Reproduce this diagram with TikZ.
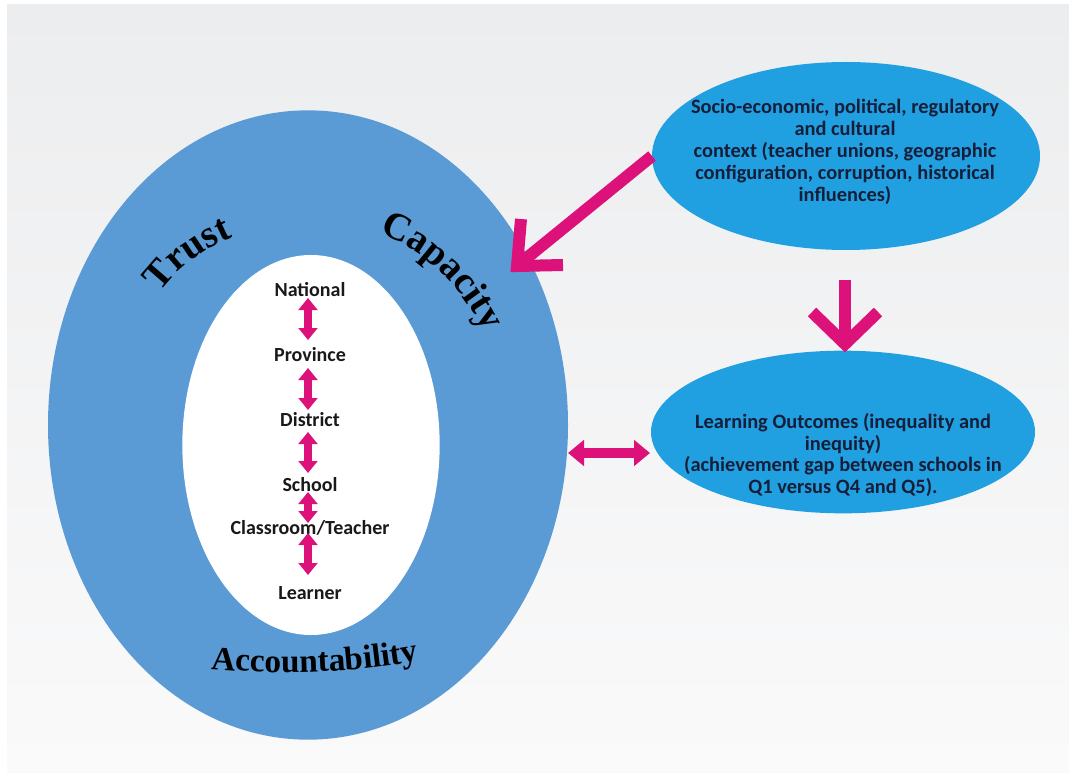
\documentclass[tikz,border=0pt]{standalone}
\usepackage{fontspec}
\usepackage{pdfrender}
\setmainfont{Carlito}
\newfontfamily\wordart{Liberation Serif}
\usetikzlibrary{shapes.geometric,decorations.text,arrows.meta,calc}
\definecolor{ring}{RGB}{91,155,213}
\definecolor{ctxblue}{RGB}{32,160,225}
\definecolor{pinkA}{RGB}{220,18,122}
\definecolor{navy}{RGB}{22,30,58}
\definecolor{bgtop}{RGB}{236,237,238}
\definecolor{bgbot}{RGB}{250,250,251}
\definecolor{silver}{RGB}{170,175,180}
\tikzset{
  blob/.style={ellipse,inner sep=0pt,outer sep=0pt,draw=none},
  ctxtext/.style={align=center,text=navy,font=\fontsize{15.3}{16.4}\selectfont\bfseries},
  level/.style={inner sep=0pt,text=black!90,font=\fontsize{15}{17}\selectfont\bfseries},
  levarrow/.style={draw=pinkA,line width=6pt,{Triangle[length=9pt,width=14pt]}-{Triangle[length=9pt,width=14pt]}},
  harrow/.style={draw=pinkA,line width=7pt,{Triangle[length=12pt,width=19pt]}-{Triangle[length=12pt,width=19pt]}},
  bigline/.style={draw=pinkA,line width=9pt},
  chevron/.style={draw=pinkA,line width=9pt,line join=miter},
}
\newcommand\wordartpath[3]{%
  \path[decorate,decoration={text along path,text align=center,text color=black,
    text={|\wordart\bfseries\fontsize{#2}{#2}\selectfont\pdfrender{TextRenderingMode=FillStroke,LineWidth=0.8pt,StrokeColor=silver}|#1}}] #3;}
\begin{document}
\begin{tikzpicture}[x=0.75pt,y=-0.75pt]
\useasboundingbox (0,0) rectangle (1069,773);
\fill[white] (0,0) rectangle (1069,773);
\shade[top color=bgtop,bottom color=bgbot] (7,5) rectangle (1069,773);
% ring
\node[blob,fill=ring,minimum width=390pt,minimum height=472pt] (outer) at (308,425) {};
\node[blob,fill=white,minimum width=193pt,minimum height=285pt] (inner) at (311,445) {};
% context ellipses
\node[blob,fill=ctxblue,minimum width=291pt,minimum height=141pt] (ctx) at (846,156) {};
\node[ctxtext] (ctxt) at (845,152) {Socio-economic, political, regulatory\\and cultural\\context (teacher unions, geographic\\configuration, corruption, historical\\influences)};
\node[blob,fill=ctxblue,minimum width=288pt,minimum height=122pt] (lo) at (843,432) {};
\node[ctxtext] (lot) at (843,455) {Learning Outcomes (inequality and\\inequity)\\(achievement gap between schools in\\Q1 versus Q4 and Q5).};
% levels
\node[level] (n1) at (310,290) {National};
\node[level] (n2) at (310,355) {Province};
\node[level] (n3) at (310,420) {District};
\node[level] (n4) at (310,485) {School};
\node[level] (n5) at (310,528) {Classroom/Teacher};
\node[level] (n6) at (310,593) {Learner};
\draw[levarrow] ($(n1)+(-2,8)$) -- ($(n2)+(-2,-15)$);
\draw[levarrow] ($(n2)+(-2,13)$) -- ($(n3)+(-2,-10)$);
\draw[levarrow] ($(n3)+(-2,12)$) -- ($(n4)+(-2,-12)$);
\draw[levarrow] ($(n4)+(-2,7)$) -- ($(n5)+(-2,-5)$);
\draw[levarrow] ($(n5)+(-2,5)$) -- ($(n6)+(-2,-18)$);
% horizontal double arrow
\coordinate (ha) at (568,453);
\coordinate (hb) at (650,453);
\draw[harrow] (ha) -- (hb);
% big diagonal arrow
\coordinate (dtip) at (517,266);
\draw[bigline] (ctx.west) -- ($(dtip)+(6,-5)$);
\draw[chevron] ($(dtip)+(4,-47)$) -- (dtip) -- ($(dtip)+(46,-1)$);
% down arrow
\coordinate (dtop) at (845,280);
\coordinate (dtip2) at (845,344);
\draw[bigline] (dtop) -- ($(dtip2)+(0,-6)$);
\draw[chevron] ($(dtip2)+(-33,-32)$) -- (dtip2) -- ($(dtip2)+(33,-32)$);
% word art
\wordartpath{Trust}{29}{(150,308) .. controls (173,268) and (205,247) .. (250,230)}
\wordartpath{Capacity}{29}{(368,229) .. controls (415,244) and (457,275) .. (490,343)}
\wordartpath{Accountability}{25}{(198,668) .. controls (280,676) and (360,673) .. (432,658)}
\end{tikzpicture}
\end{document}
